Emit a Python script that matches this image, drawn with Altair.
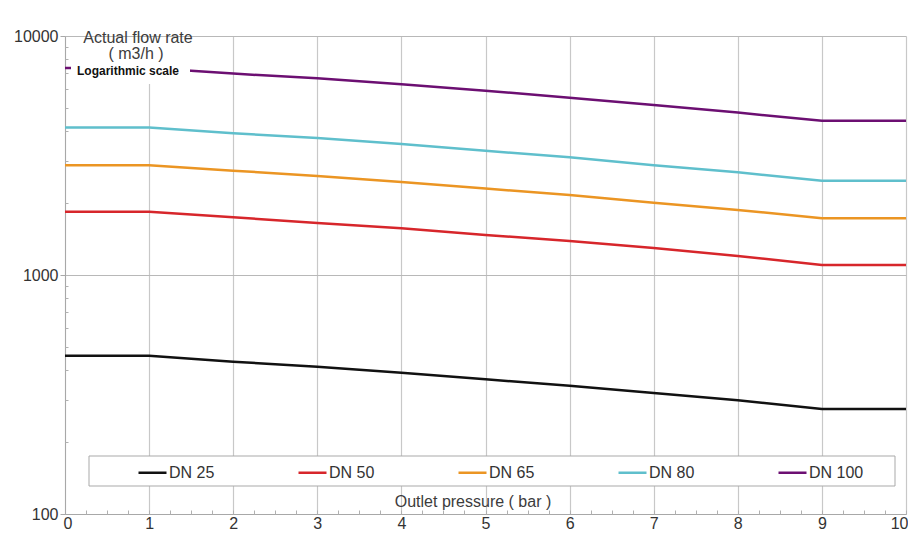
import altair as alt
import pandas as pd

FONT = "Liberation Sans"

pressure = [0, 1, 2, 3, 4, 5, 6, 7, 8, 9, 10]
dn25 = [459, 459, 434, 413, 390, 366, 344, 321, 299, 275, 275]
dn50 = [1841, 1841, 1744, 1651, 1568, 1471, 1388, 1297, 1201, 1102, 1102]
dn65 = [2880, 2880, 2732, 2596, 2450, 2301, 2162, 2007, 1871, 1727, 1727]
dn80 = [4140, 4140, 3916, 3743, 3532, 3311, 3108, 2877, 2690, 2481, 2481]
dn100 = [7350, 7350, 6960, 6650, 6280, 5900, 5520, 5140, 4780, 4420, 4420]

series_names = ["DN 25", "DN 50", "DN 65", "DN 80", "DN 100"]
series_values = [dn25, dn50, dn65, dn80, dn100]
series_colors = ["#111111", "#d7262b", "#eb9523", "#5fbfcc", "#6c0f72"]

x_ticks = list(range(11))
y_ticks = [100, 1000, 10000]
y_minor = [200, 300, 400, 500, 600, 700, 800, 900,
           2000, 3000, 4000, 5000, 6000, 7000, 8000, 9000]
x_minor = [i * 0.25 for i in range(41)]

y_title = ["Actual flow rate", "( m3/h )"]
scale_note = "Logarithmic scale"
x_title = "Outlet pressure ( bar )"

rows = []
for name, vals in zip(series_names, series_values):
    for p, v in zip(pressure, vals):
        rows.append({"p": p, "v": v, "s": name})
df = pd.DataFrame(rows)

xscale = alt.Scale(domain=[0, 10], nice=False)
yscale = alt.Scale(type="log", domain=[100, 10000], nice=False)

base = alt.Chart(df)

lines = base.mark_line(strokeWidth=2.5).encode(
    x=alt.X("p:Q", scale=xscale, axis=alt.Axis(
        values=x_ticks, title=None, grid=True, gridColor="#c8c8c8", gridWidth=1.2,
        ticks=False, labelPadding=1, labelFlush=True, labelFlushOffset=2,
        domainColor="#a8a8a8",
        labelFontSize=16, labelColor="#333333", labelFont=FONT, orient="bottom")),
    y=alt.Y("v:Q", scale=yscale, axis=alt.Axis(
        values=y_ticks, format="d", title=None, grid=True, gridColor="#b8b8b8",
        gridWidth=1.2, tickSize=5, tickColor="#a8a8a8", labelPadding=2,
        domainColor="#a8a8a8", labelFontSize=16, labelColor="#333333",
        labelFont=FONT, orient="left")),
    color=alt.Color("s:N", sort=series_names,
                    scale=alt.Scale(domain=series_names, range=series_colors),
                    legend=alt.Legend(
                        title=None, orient="none", legendX=72, legendY=421,
                        direction="horizontal", columns=5, symbolType="stroke",
                        symbolSize=784, symbolStrokeWidth=2.5, labelFontSize=16,
                        labelFont=FONT, labelColor="#333333", labelOffset=1,
                        columnPadding=69, gridAlign="all", padding=0)),
)

minor = base.mark_line(opacity=0).encode(
    x=alt.X("p:Q", scale=xscale, axis=alt.Axis(
        values=x_minor, labels=False, domain=False, grid=False, tickSize=4,
        offset=-4, tickColor="#b0b0b0", title=None, orient="bottom")),
    y=alt.Y("v:Q", scale=yscale, axis=alt.Axis(
        values=y_minor, labels=False, domain=False, grid=False, tickSize=3,
        offset=-3, tickColor="#b0b0b0", title=None, orient="left")),
)

one = alt.Chart(pd.DataFrame({"t": [0]}))

label_box = one.mark_rect(fill="white").encode(
    x=alt.value(6), x2=alt.value(125), y=alt.value(2), y2=alt.value(48))

legend_box = one.mark_rect(fill="white", stroke="#a9a9a9", strokeWidth=1).encode(
    x=alt.value(24), x2=alt.value(830), y=alt.value(420), y2=alt.value(450))

t1 = one.mark_text(text=y_title[0], font=FONT, fontSize=16, color="#3c3c3c",
                   align="center", baseline="alphabetic").encode(
    x=alt.value(73), y=alt.value(7))
t2 = one.mark_text(text=y_title[1], font=FONT, fontSize=16, color="#3c3c3c",
                   align="center", baseline="alphabetic").encode(
    x=alt.value(71), y=alt.value(23))
t3 = one.mark_text(text=scale_note, font=FONT, fontSize=12, fontWeight="bold",
                   color="#111111", align="left", baseline="alphabetic").encode(
    x=alt.value(12), y=alt.value(39))
t4 = one.mark_text(text=x_title, font=FONT, fontSize=16, color="#3c3c3c",
                   align="center", baseline="alphabetic").encode(
    x=alt.value(408), y=alt.value(471))

chart = alt.layer(lines, minor, label_box, legend_box, t1, t2, t3, t4).resolve_axis(
    x="independent", y="independent"
).properties(
    width=841, height=478,
    autosize=alt.AutoSizeParams(type="none"),
    padding={"left": 57, "top": 28, "right": 2, "bottom": 18},
    background="white",
).configure_view(stroke="transparent")

chart.save("out.html", embed_options={"renderer": "svg", "actions": False})
